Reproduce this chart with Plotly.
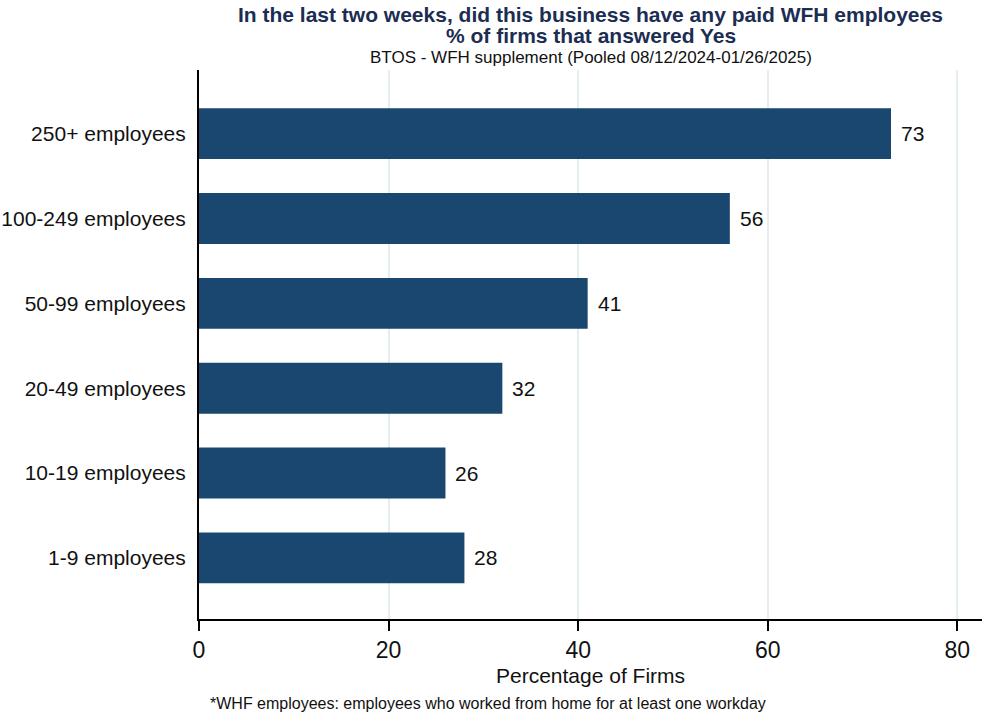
import plotly.graph_objects as go

categories = ["1-9 employees", "10-19 employees", "20-49 employees",
              "50-99 employees", "100-249 employees", "250+ employees"]
values = [28, 26, 32, 41, 56, 73]
x_ticks = [0, 20, 40, 60, 80]

title_line1 = "In the last two weeks, did this business have any paid WFH employees"
title_line2 = "% of firms that answered Yes"
subtitle = "BTOS - WFH supplement (Pooled 08/12/2024-01/26/2025)"
footnote = "*WHF employees: employees who worked from home for at least one workday"
x_title = "Percentage of Firms"

FONT = "Liberation Sans, Arial, sans-serif"
BAR = "#1a476f"
TITLE_C = "#1c2d52"

fig = go.Figure(go.Bar(
    x=values, y=categories, orientation="h",
    marker=dict(color=BAR, line=dict(width=0)),
    width=0.6,
))

annotations = []
for c, v in zip(categories, values):
    annotations.append(dict(x=v, y=c, xref="x", yref="y", text=str(v),
                            showarrow=False, xanchor="left", xshift=8,
                            font=dict(family=FONT, size=21, color="#111")))

H = 549.0
def py(p):
    return (619 - p) / H

annotations += [
    dict(x=0.5, y=py(14), xref="paper", yref="paper", text="<b>" + title_line1 + "</b>",
         showarrow=False, xanchor="center", yanchor="middle",
         font=dict(family=FONT, size=21, color=TITLE_C)),
    dict(x=0.5, y=py(35), xref="paper", yref="paper", text="<b>" + title_line2 + "</b>",
         showarrow=False, xanchor="center", yanchor="middle",
         font=dict(family=FONT, size=21, color=TITLE_C)),
    dict(x=0.5, y=py(57), xref="paper", yref="paper", text=subtitle,
         showarrow=False, xanchor="center", yanchor="middle",
         font=dict(family=FONT, size=17, color="#111")),
    dict(x=0.0115, y=py(703), xref="paper", yref="paper", text=footnote,
         showarrow=False, xanchor="left", yanchor="middle",
         font=dict(family=FONT, size=16, color="#111")),
    dict(x=0.5, y=py(675), xref="paper", yref="paper", text=x_title,
         showarrow=False, xanchor="center", yanchor="middle",
         font=dict(family=FONT, size=21, color="#111")),
]

fig.update_layout(
    width=982, height=717,
    margin=dict(l=199, r=0, t=70, b=98),
    paper_bgcolor="white", plot_bgcolor="white",
    showlegend=False,
    annotations=annotations,
    bargap=0.4,
)
fig.update_xaxes(
    range=[0, 82.6], tickvals=x_ticks, ticktext=[str(t) for t in x_ticks],
    showgrid=True, gridcolor="#e3eef1", gridwidth=2,
    showline=True, linecolor="black", linewidth=1.5,
    ticks="outside", ticklen=10, tickcolor="black", tickwidth=1.5,
    tickfont=dict(family=FONT, size=23, color="#111"),
    zeroline=False,
)
fig.update_yaxes(
    type="category", categoryorder="array", categoryarray=categories,
    range=[-0.72, 5.75],
    showgrid=False, showline=True, linecolor="black", linewidth=2,
    ticks="", ticklabelstandoff=7,
    tickfont=dict(family=FONT, size=21, color="#111"),
)

fig.write_html("out.html", config={"displayModeBar": False},
               post_script="document.body.style.margin='0';")
